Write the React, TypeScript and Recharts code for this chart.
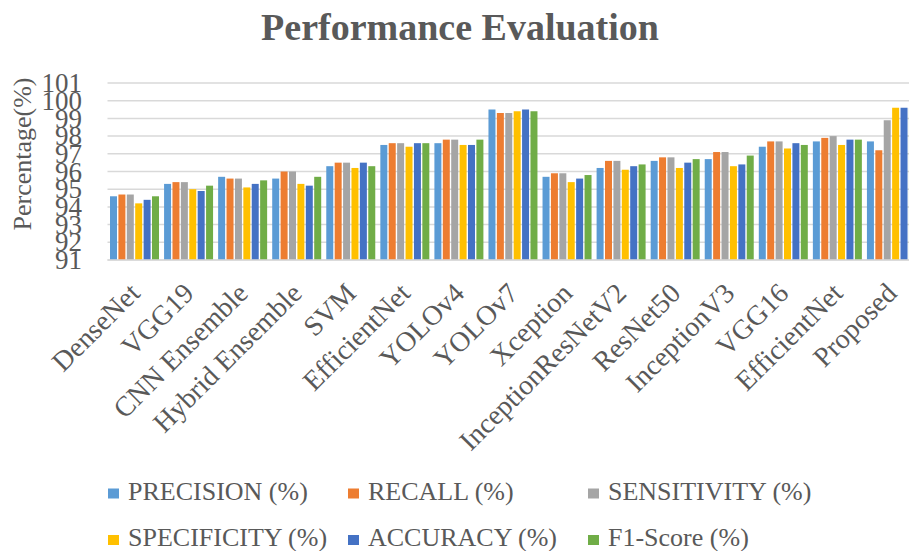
import { Bar, BarChart, CartesianGrid, Legend, XAxis, YAxis } from "recharts";

const models = [
  "DenseNet", "VGG19", "CNN Ensemble", "Hybrid Ensemble", "SVM", "EfficientNet", "YOLOv4", "YOLOv7",
  "Xception", "InceptionResNetV2", "ResNet50", "InceptionV3", "VGG16", "EfficientNet", "Proposed",
];

const precision = [94.6, 95.3, 95.7, 95.6, 96.3, 97.5, 97.6, 99.5, 95.7, 96.2, 96.6, 96.7, 97.4, 97.7, 97.7];
const recall = [94.7, 95.4, 95.6, 96.0, 96.5, 97.6, 97.8, 99.3, 95.9, 96.6, 96.8, 97.1, 97.7, 97.9, 97.2];
const sensitivity = [94.7, 95.4, 95.6, 96.0, 96.5, 97.6, 97.8, 99.3, 95.9, 96.6, 96.8, 97.1, 97.7, 98.0, 98.9];
const specificity = [94.2, 95.0, 95.1, 95.3, 96.2, 97.4, 97.5, 99.4, 95.4, 96.1, 96.2, 96.3, 97.3, 97.5, 99.6];
const accuracy = [94.4, 94.9, 95.3, 95.2, 96.5, 97.6, 97.5, 99.5, 95.6, 96.3, 96.5, 96.4, 97.6, 97.8, 99.6];
const f1Score = [94.6, 95.2, 95.5, 95.7, 96.3, 97.6, 97.8, 99.4, 95.8, 96.4, 96.7, 96.9, 97.5, 97.8, 99.6];

const yTicks = [91, 92, 93, 94, 95, 96, 97, 98, 99, 100, 101];

const series = [
  { key: "precision", name: "PRECISION (%)", color: "#5B9BD5" },
  { key: "recall", name: "RECALL (%)", color: "#ED7D31" },
  { key: "sensitivity", name: "SENSITIVITY (%)", color: "#A5A5A5" },
  { key: "specificity", name: "SPECIFICITY (%)", color: "#FFC000" },
  { key: "accuracy", name: "ACCURACY (%)", color: "#4472C4" },
  { key: "f1", name: "F1-Score (%)", color: "#70AD47" },
];

const data = models.map((model, i) => ({
  model,
  precision: precision[i],
  recall: recall[i],
  sensitivity: sensitivity[i],
  specificity: specificity[i],
  accuracy: accuracy[i],
  f1: f1Score[i],
}));

const FONT = "'Liberation Serif', 'Times New Roman', serif";
const TEXT = "#595959";

// labels slanted at 45°, upper end sitting just under the category
const CategoryTick = ({ x, y, payload }: any) => {
  const tx = x - 7;
  const ty = y + 13;
  return (
    <text
      x={tx}
      y={ty}
      dy="0.7em"
      transform={`rotate(-45 ${tx} ${ty})`}
      textAnchor="end"
      fill={TEXT}
      fontSize={28}
      fontFamily={FONT}
    >
      {payload.value}
    </text>
  );
};

const ValueTick = ({ y, payload }: any) => (
  <text x={82} y={y} dy="0.34em" textAnchor="end" fill={TEXT} fontSize={27} fontFamily={FONT}>
    {payload.value}
  </text>
);

// two rows of three, fixed columns, in series order
const LegendBlock = () => (
  <svg width={909} height={81}>
    {series.map((s, i) => {
      const col = i % 3;
      const row = Math.floor(i / 3);
      const x = 108 + col * 240;
      const base = row === 0 ? 29.5 : 76;
      return (
        <g key={s.key}>
          <rect x={x} y={base - 11} width={11} height={10} fill={s.color} />
          <text x={x + 20} y={base} fill={TEXT} fontSize={26} fontFamily={FONT}>
            {s.name}
          </text>
        </g>
      );
    })}
  </svg>
);

export default function App() {
  return (
    <div style={{ position: "absolute", left: 0, top: 0, width: 909, height: 551, overflow: "hidden", background: "#fff" }}>
      <BarChart
        width={930}
        height={551}
        data={data}
        margin={{ top: 83, right: 11.5, bottom: 0, left: 0 }}
        barCategoryGap={2.5}
        barGap={1.4}
      >
        <text x={460} y={39.5} textAnchor="middle" fill={TEXT} fontSize={38} fontWeight="bold" fontFamily={FONT}>
          Performance Evaluation
        </text>
        <text transform="translate(31,154) rotate(-90)" textAnchor="middle" fill={TEXT} fontSize={26} fontFamily={FONT}>
          Percentage(%)
        </text>
        <CartesianGrid vertical={false} stroke="#D9D9D9" strokeWidth={1.5} />
        <XAxis
          dataKey="model"
          interval={0}
          height={291}
          tickLine={false}
          axisLine={{ stroke: "#D9D9D9", strokeWidth: 1.5 }}
          tick={<CategoryTick />}
        />
        <YAxis
          width={107.5}
          domain={[91, 101]}
          ticks={yTicks}
          interval={0}
          allowDataOverflow
          axisLine={false}
          tickLine={false}
          tick={<ValueTick />}
        />
        <Legend
          layout="horizontal"
          verticalAlign="middle"
          align="center"
          wrapperStyle={{ left: 0, top: 470, width: 909, height: 81 }}
          content={<LegendBlock />}
        />
        {series.map((s) => (
          <Bar key={s.key} dataKey={s.key} name={s.name} fill={s.color} isAnimationActive={false} />
        ))}
      </BarChart>
    </div>
  );
}
